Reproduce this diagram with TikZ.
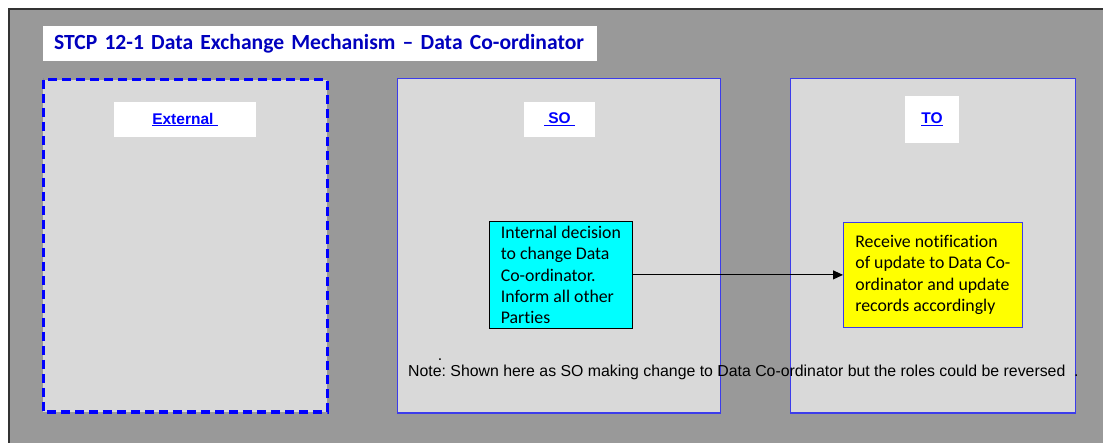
\documentclass[tikz,border=0pt]{standalone}
\usepackage{fontspec}
\setmainfont{Carlito}[Ligatures=NoCommon]
\newfontfamily\arialfont{Liberation Sans}
\usetikzlibrary{arrows.meta}
\definecolor{bggray}{RGB}{153,153,153}
\definecolor{panelgray}{RGB}{217,217,217}
\definecolor{panelblue}{RGB}{60,60,235}
\definecolor{titleblue}{RGB}{0,0,190}
\definecolor{labelblue}{RGB}{0,0,255}
\definecolor{stepcyan}{RGB}{0,255,255}
\definecolor{stepyellow}{RGB}{255,255,0}
\frenchspacing

\begin{document}
\begin{tikzpicture}[x=1pt,y=-1pt,
    panel/.style={draw=panelblue,line width=1pt,fill=panelgray},
    headbox/.style={fill=white,inner sep=0pt,text=labelblue,
      font=\arialfont\bfseries\fontsize{15.5}{18}\selectfont},
    taskbox/.style={draw,line width=0.8pt,inner sep=0pt,align=left,anchor=north west,
      font=\fontsize{17.8}{21.3}\selectfont},
    notetext/.style={font=\arialfont\fontsize{15.85}{19}\selectfont}]
  \useasboundingbox (0,0) rectangle (1103,443);
  % background
  \fill[bggray] (9,9) rectangle (1103,443);
  \draw[line width=1.2pt,black!80] (9,443) -- (9,9) -- (1103,9);
  \node[fill=white,anchor=north west,minimum height=35,inner xsep=11,inner ysep=0pt,
    text width=532,align=left,text=titleblue,font=\bfseries\fontsize{21.6}{25}\selectfont]
    (title) at (43,26) {STCP 12-1 Data Exchange Mechanism -- Data Co-ordinator};
  % lanes
  \draw[fill=panelgray,draw=labelblue,line width=3pt,dash pattern=on 9pt off 5pt]
    (43,80) rectangle (327,412);
  \draw[panel] (397,79) rectangle (720,413);
  \draw[panel] (790,79) rectangle (1075,413);
  \node[headbox,minimum width=142,minimum height=35] (external) at (185,119.5) {\underline{External\ }};
  \node[headbox,minimum width=71,minimum height=35] (so) at (559.5,119.5) {\underline{\ SO\ }};
  \node[headbox,minimum width=54,minimum height=47] (to) at (932,119.5) {\underline{TO}};
  % steps
  \node[taskbox,fill=stepcyan,minimum width=143,minimum height=107]
    (decision) at (489,221) {Internal decision\\to change Data\\Co-ordinator.\\Inform all other\\Parties};
  \node[taskbox,draw=panelblue,fill=stepyellow,minimum width=179,minimum height=105]
    (notify) at (843,222) {Receive notification\\of update to Data Co-\\ordinator and update\\records accordingly};
  \draw[-{Triangle[length=10pt,width=9pt]},line width=1pt] (decision.east) -- (notify.west);
  \node[notetext,anchor=base] (dot) at (440,361) {.};
  \node[notetext,anchor=base west,inner sep=0pt] (note) at (408,377)
    {Note: Shown here as SO making change to Data Co-ordinator but the roles could be reversed\ \ .};
\end{tikzpicture}
\end{document}
